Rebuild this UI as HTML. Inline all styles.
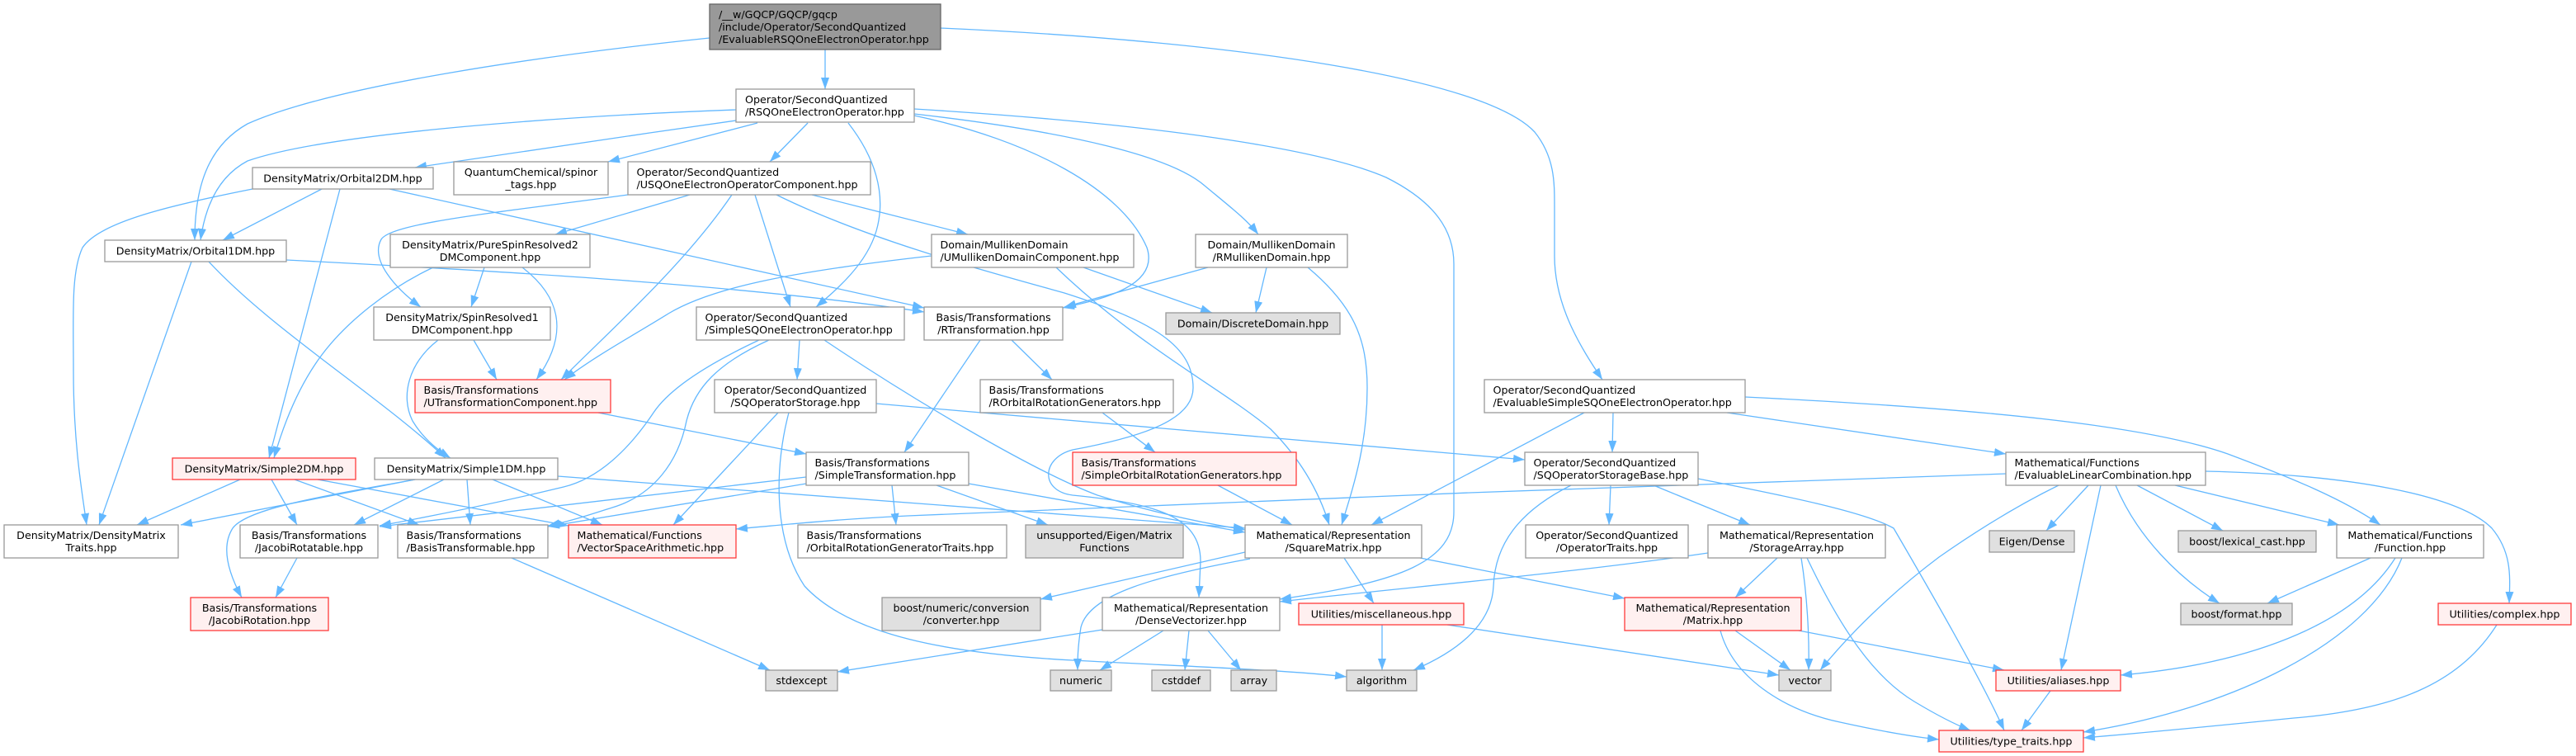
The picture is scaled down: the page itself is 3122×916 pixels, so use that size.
<!DOCTYPE html>
<html>
<head>
<meta charset="utf-8">
<style>
html,body{margin:0;padding:0;background:#fff;}
svg{display:block;}
.e{fill:none;stroke:#63b8ff;stroke-width:1.3;marker-end:url(#a);}
.n{fill:#fff;stroke:#999;stroke-width:1.3;}
.r{fill:#fff0f0;stroke:#ff3b3b;stroke-width:1.3;}
.g{fill:#e0e0e0;stroke:#999;stroke-width:1.3;}
.t{fill:#999;stroke:#666;stroke-width:1.3;}
text{font-family:"DejaVu Sans","Liberation Sans",sans-serif;font-size:12.7px;fill:#000;dominant-baseline:central;}
.m{text-anchor:middle;}
.s{text-anchor:start;}
</style>
</head>
<body>
<svg xmlns="http://www.w3.org/2000/svg" width="3122" height="916" viewBox="0 0 3122 916">
<defs>
<marker id="a" markerWidth="14" markerHeight="10" refX="14" refY="5" orient="auto" markerUnits="userSpaceOnUse">
<path d="M0,0 L14,5 L0,10 z" fill="#63b8ff"/>
</marker>
</defs>
<rect width="3122" height="916" fill="#fff"/>
<g>
<path class="e" d="M1000,60 L1000,108"/>
<path class="e" d="M860,46 C650,68 400,105 300,150 C250,178 236,230 236,291"/>
<path class="e" d="M1140,34 C1500,50 1800,95 1860,160 C1884,190 1884,220 1884,250 L1884,310 C1884,370 1915,420 1942,460"/>
<path class="e" d="M892,146 C760,165 620,185 503,203"/>
<path class="e" d="M918,149 L737,196"/>
<path class="e" d="M892,133 C700,140 400,160 300,195 C262,215 248,255 243,291"/>
<path class="e" d="M979,149 L933,196"/>
<path class="e" d="M1028,149 C1060,190 1075,235 1062,280 C1050,320 1015,350 989,372"/>
<path class="e" d="M1108,140 C1250,170 1360,230 1390,300 C1405,345 1340,362 1288,373"/>
<path class="e" d="M1108,138 C1300,160 1420,190 1460,225 C1490,250 1510,265 1525,284"/>
<path class="e" d="M1108,132 C1400,150 1600,180 1680,215 C1740,245 1762,280 1762,320 L1762,620 C1762,680 1700,705 1551,726"/>
<path class="e" d="M836,236 L673,284"/>
<path class="e" d="M761,236 C600,258 475,270 462,290 C448,315 480,350 510,372"/>
<path class="e" d="M887,236 C830,320 740,400 680,460"/>
<path class="e" d="M915,236 L958,372"/>
<path class="e" d="M984,236 L1173,284"/>
<path class="e" d="M941,236 C1050,290 1200,330 1290,355 C1400,390 1446,420 1446,470 C1446,510 1380,530 1300,545 C1262,555 1260,595 1300,600 C1400,610 1455,625 1455,680 L1453,724"/>
<path class="e" d="M1129,310 C950,330 860,350 810,380 C770,405 720,432 684,460"/>
<path class="e" d="M1313,324 L1469,379"/>
<path class="e" d="M1280,324 C1380,420 1480,470 1540,520 C1580,560 1600,600 1611,636"/>
<path class="e" d="M1464,324 L1290,372"/>
<path class="e" d="M1535,324 L1522,379"/>
<path class="e" d="M1585,324 C1640,370 1657,410 1657,470 C1657,540 1640,590 1626,636"/>
<path class="e" d="M306,229 C200,250 120,270 100,300 C86,330 89,380 89,450 C89,540 100,600 105,636"/>
<path class="e" d="M390,229 L270,291"/>
<path class="e" d="M412,229 L326,555"/>
<path class="e" d="M472,229 L1120,373"/>
<path class="e" d="M232,317 L120,636"/>
<path class="e" d="M253,317 C330,400 460,480 540,555"/>
<path class="e" d="M347,315 C600,328 900,345 1120,378"/>
<path class="e" d="M587,324 L571,372"/>
<path class="e" d="M633,324 C680,360 690,405 650,460"/>
<path class="e" d="M525,324 C470,350 420,390 390,430 C360,470 342,520 332,555"/>
<path class="e" d="M574,412 L602,460"/>
<path class="e" d="M531,412 C495,440 485,480 500,510 C512,530 530,545 546,555"/>
<path class="e" d="M725,500 L977,550"/>
<path class="e" d="M291,581 L166,636"/>
<path class="e" d="M329,581 L360,636"/>
<path class="e" d="M357,581 L508,636"/>
<path class="e" d="M385,581 L689,637"/>
<path class="e" d="M503,581 L219,636"/>
<path class="e" d="M503,581 C400,600 300,615 282,640 C266,665 280,700 293,724"/>
<path class="e" d="M538,581 L429,636"/>
<path class="e" d="M566,581 L570,636"/>
<path class="e" d="M597,581 L730,636"/>
<path class="e" d="M676,577 L1509,640"/>
<path class="e" d="M360,676 L334,724"/>
<path class="e" d="M620,676 C720,720 850,775 933,812"/>
<path class="e" d="M969,412 L966,460"/>
<path class="e" d="M999,412 C1100,480 1250,570 1330,600 C1400,622 1460,634 1509,642"/>
<path class="e" d="M920,412 C860,440 812,470 792,500 C762,545 725,580 683,590 C600,610 520,626 460,637"/>
<path class="e" d="M932,412 C870,440 842,470 832,510 C822,560 792,600 742,615 C710,625 690,632 664,637"/>
<path class="e" d="M977,578 L460,638"/>
<path class="e" d="M977,586 L664,638"/>
<path class="e" d="M1081,588 L1086,636"/>
<path class="e" d="M1135,588 L1270,636"/>
<path class="e" d="M1174,586 L1509,645"/>
<path class="e" d="M1062,489 L1848,557"/>
<path class="e" d="M943,500 L816,636"/>
<path class="e" d="M956,500 C940,560 935,650 975,710 C1030,770 1150,792 1300,800 C1450,808 1560,812 1632,820"/>
<path class="e" d="M1188,412 L1096,548"/>
<path class="e" d="M1226,412 L1275,460"/>
<path class="e" d="M1336,500 L1400,548"/>
<path class="e" d="M1476,588 L1566,636"/>
<path class="e" d="M1509,669 L1261,726"/>
<path class="e" d="M1515,677 C1400,698 1320,720 1310,760 C1306,785 1306,800 1306,812"/>
<path class="e" d="M1629,676 L1665,731"/>
<path class="e" d="M1721,676 L1969,725"/>
<path class="e" d="M1336,763 L1015,814"/>
<path class="e" d="M1410,764 L1333,812"/>
<path class="e" d="M1441,764 L1436,812"/>
<path class="e" d="M1464,764 L1504,812"/>
<path class="e" d="M1675,757 L1675,812"/>
<path class="e" d="M1754,757 L2156,818"/>
<path class="e" d="M1955,500 L1954,548"/>
<path class="e" d="M1920,500 L1662,636"/>
<path class="e" d="M2093,500 L2431,550"/>
<path class="e" d="M2115,481 C2400,495 2600,515 2700,550 C2780,580 2840,605 2885,636"/>
<path class="e" d="M1904,588 C1840,620 1812,660 1810,710 C1808,760 1760,792 1713,812"/>
<path class="e" d="M1952,588 L1950,636"/>
<path class="e" d="M2004,588 L2121,636"/>
<path class="e" d="M2058,580 C2160,600 2260,620 2295,640 C2330,700 2400,820 2429,885"/>
<path class="e" d="M2070,670 C1900,695 1700,712 1551,729"/>
<path class="e" d="M2154,676 L2103,724"/>
<path class="e" d="M2183,676 C2190,720 2193,770 2192,812"/>
<path class="e" d="M2190,676 C2230,760 2270,820 2320,850 C2350,868 2370,878 2388,885"/>
<path class="e" d="M2103,764 L2170,812"/>
<path class="e" d="M2085,764 C2100,820 2160,860 2230,875 C2280,886 2320,893 2350,896"/>
<path class="e" d="M2180,764 L2429,812"/>
<path class="e" d="M2431,574 C2100,585 1400,610 1100,625 C1000,630 950,636 892,641"/>
<path class="e" d="M2495,588 C2450,610 2400,640 2350,675 C2290,720 2240,770 2206,812"/>
<path class="e" d="M2531,588 L2480,643"/>
<path class="e" d="M2546,588 L2498,812"/>
<path class="e" d="M2564,588 C2590,650 2640,700 2690,731"/>
<path class="e" d="M2590,588 L2694,643"/>
<path class="e" d="M2636,588 L2835,636"/>
<path class="e" d="M2673,571 C2850,575 2980,600 3020,640 C3045,670 3042,700 3041,731"/>
<path class="e" d="M2873,676 L2748,731"/>
<path class="e" d="M2903,676 C2850,760 2720,805 2570,818"/>
<path class="e" d="M2911,676 C2870,780 2700,860 2525,887"/>
<path class="e" d="M3026,757 C2980,830 2900,860 2780,870 C2680,880 2600,888 2525,894"/>
<path class="e" d="M2485,837 L2450,885"/>
</g>
<g>
<rect class="t" x="860" y="5" width="280" height="55"/>
<text class="s" x="871" y="17.5">/__w/GQCP/GQCP/gqcp</text>
<text class="s" x="871" y="32.5">/include/Operator/SecondQuantized</text>
<text class="s" x="871" y="47.5">/EvaluableRSQOneElectronOperator.hpp</text>

<rect class="n" x="892" y="108" width="216" height="40"/>
<text class="s" x="903" y="120.5">Operator/SecondQuantized</text>
<text class="s" x="903" y="135.5">/RSQOneElectronOperator.hpp</text>

<rect class="n" x="306" y="203" width="219" height="26"/>
<text class="m" x="415.5" y="216">DensityMatrix/Orbital2DM.hpp</text>

<rect class="n" x="550" y="196" width="187" height="40"/>
<text class="m" x="643.5" y="208.5">QuantumChemical/spinor</text>
<text class="m" x="643.5" y="223.5">_tags.hpp</text>

<rect class="n" x="761" y="196" width="294" height="40"/>
<text class="s" x="771.5" y="208.5">Operator/SecondQuantized</text>
<text class="s" x="771.5" y="223.5">/USQOneElectronOperatorComponent.hpp</text>

<rect class="n" x="127" y="291" width="220" height="26"/>
<text class="m" x="237" y="304">DensityMatrix/Orbital1DM.hpp</text>

<rect class="n" x="473" y="284" width="242" height="40"/>
<text class="m" x="594" y="296.5">DensityMatrix/PureSpinResolved2</text>
<text class="m" x="594" y="311.5">DMComponent.hpp</text>

<rect class="n" x="1129" y="284" width="245" height="40"/>
<text class="s" x="1139.5" y="296.5">Domain/MullikenDomain</text>
<text class="s" x="1139.5" y="311.5">/UMullikenDomainComponent.hpp</text>

<rect class="n" x="1449" y="284" width="184" height="40"/>
<text class="m" x="1541" y="296.5">Domain/MullikenDomain</text>
<text class="m" x="1541" y="311.5">/RMullikenDomain.hpp</text>

<rect class="n" x="453" y="372" width="214" height="40"/>
<text class="m" x="560" y="384.5">DensityMatrix/SpinResolved1</text>
<text class="m" x="560" y="399.5">DMComponent.hpp</text>

<rect class="n" x="844" y="372" width="252" height="40"/>
<text class="s" x="854.5" y="384.5">Operator/SecondQuantized</text>
<text class="s" x="854.5" y="399.5">/SimpleSQOneElectronOperator.hpp</text>

<rect class="n" x="1120" y="372" width="168" height="40"/>
<text class="m" x="1204" y="384.5">Basis/Transformations</text>
<text class="m" x="1204" y="399.5">/RTransformation.hpp</text>

<rect class="g" x="1413" y="379" width="211" height="26"/>
<text class="m" x="1518.5" y="392">Domain/DiscreteDomain.hpp</text>

<rect class="r" x="503" y="460" width="237" height="40"/>
<text class="s" x="513.5" y="472.5">Basis/Transformations</text>
<text class="s" x="513.5" y="487.5">/UTransformationComponent.hpp</text>

<rect class="n" x="866" y="460" width="196" height="40"/>
<text class="m" x="964" y="472.5">Operator/SecondQuantized</text>
<text class="m" x="964" y="487.5">/SQOperatorStorage.hpp</text>

<rect class="n" x="1188" y="460" width="234" height="40"/>
<text class="s" x="1198.5" y="472.5">Basis/Transformations</text>
<text class="s" x="1198.5" y="487.5">/ROrbitalRotationGenerators.hpp</text>

<rect class="n" x="1799" y="460" width="316" height="40"/>
<text class="s" x="1809.5" y="472.5">Operator/SecondQuantized</text>
<text class="s" x="1809.5" y="487.5">/EvaluableSimpleSQOneElectronOperator.hpp</text>

<rect class="r" x="209" y="555" width="222" height="26"/>
<text class="m" x="320" y="568">DensityMatrix/Simple2DM.hpp</text>

<rect class="n" x="454" y="555" width="222" height="26"/>
<text class="m" x="565" y="568">DensityMatrix/Simple1DM.hpp</text>

<rect class="n" x="977" y="548" width="197" height="40"/>
<text class="s" x="987.5" y="560.5">Basis/Transformations</text>
<text class="s" x="987.5" y="575.5">/SimpleTransformation.hpp</text>

<rect class="r" x="1300" y="548" width="271" height="40"/>
<text class="s" x="1310.5" y="560.5">Basis/Transformations</text>
<text class="s" x="1310.5" y="575.5">/SimpleOrbitalRotationGenerators.hpp</text>

<rect class="n" x="1848" y="548" width="210" height="40"/>
<text class="s" x="1858.5" y="560.5">Operator/SecondQuantized</text>
<text class="s" x="1858.5" y="575.5">/SQOperatorStorageBase.hpp</text>

<rect class="n" x="2431" y="548" width="242" height="40"/>
<text class="s" x="2441.5" y="560.5">Mathematical/Functions</text>
<text class="s" x="2441.5" y="575.5">/EvaluableLinearCombination.hpp</text>

<rect class="n" x="5" y="636" width="211" height="40"/>
<text class="m" x="110.5" y="648.5">DensityMatrix/DensityMatrix</text>
<text class="m" x="110.5" y="663.5">Traits.hpp</text>

<rect class="n" x="291" y="636" width="167" height="40"/>
<text class="m" x="374.5" y="648.5">Basis/Transformations</text>
<text class="m" x="374.5" y="663.5">/JacobiRotatable.hpp</text>

<rect class="n" x="482" y="636" width="182" height="40"/>
<text class="s" x="492.5" y="648.5">Basis/Transformations</text>
<text class="s" x="492.5" y="663.5">/BasisTransformable.hpp</text>

<rect class="r" x="689" y="636" width="203" height="40"/>
<text class="s" x="699.5" y="648.5">Mathematical/Functions</text>
<text class="s" x="699.5" y="663.5">/VectorSpaceArithmetic.hpp</text>

<rect class="n" x="967" y="636" width="253" height="40"/>
<text class="s" x="977.5" y="648.5">Basis/Transformations</text>
<text class="s" x="977.5" y="663.5">/OrbitalRotationGeneratorTraits.hpp</text>

<rect class="g" x="1243" y="636" width="191" height="40"/>
<text class="m" x="1338.5" y="648.5">unsupported/Eigen/Matrix</text>
<text class="m" x="1338.5" y="663.5">Functions</text>

<rect class="n" x="1509" y="636" width="214" height="40"/>
<text class="m" x="1616" y="648.5">Mathematical/Representation</text>
<text class="m" x="1616" y="663.5">/SquareMatrix.hpp</text>

<rect class="n" x="1849" y="636" width="197" height="40"/>
<text class="m" x="1947.5" y="648.5">Operator/SecondQuantized</text>
<text class="m" x="1947.5" y="663.5">/OperatorTraits.hpp</text>

<rect class="n" x="2070" y="636" width="215" height="40"/>
<text class="m" x="2177.5" y="648.5">Mathematical/Representation</text>
<text class="m" x="2177.5" y="663.5">/StorageArray.hpp</text>

<rect class="g" x="2411" y="643" width="103" height="26"/>
<text class="m" x="2462.5" y="656">Eigen/Dense</text>

<rect class="g" x="2640" y="643" width="167" height="26"/>
<text class="m" x="2723.5" y="656">boost/lexical_cast.hpp</text>

<rect class="n" x="2832" y="636" width="178" height="40"/>
<text class="m" x="2921" y="648.5">Mathematical/Functions</text>
<text class="m" x="2921" y="663.5">/Function.hpp</text>

<rect class="r" x="231" y="724" width="167" height="40"/>
<text class="m" x="314.5" y="736.5">Basis/Transformations</text>
<text class="m" x="314.5" y="751.5">/JacobiRotation.hpp</text>

<rect class="g" x="1069" y="724" width="192" height="40"/>
<text class="m" x="1165" y="736.5">boost/numeric/conversion</text>
<text class="m" x="1165" y="751.5">/converter.hpp</text>

<rect class="n" x="1336" y="724" width="215" height="40"/>
<text class="m" x="1443.5" y="736.5">Mathematical/Representation</text>
<text class="m" x="1443.5" y="751.5">/DenseVectorizer.hpp</text>

<rect class="r" x="1574" y="731" width="200" height="26"/>
<text class="m" x="1674" y="744">Utilities/miscellaneous.hpp</text>

<rect class="r" x="1969" y="724" width="214" height="40"/>
<text class="m" x="2076" y="736.5">Mathematical/Representation</text>
<text class="m" x="2076" y="751.5">/Matrix.hpp</text>

<rect class="g" x="2643" y="731" width="135" height="26"/>
<text class="m" x="2710.5" y="744">boost/format.hpp</text>

<rect class="r" x="2955" y="731" width="161" height="26"/>
<text class="m" x="3035.5" y="744">Utilities/complex.hpp</text>

<rect class="g" x="928" y="812" width="87" height="25"/>
<text class="m" x="971.5" y="824.5">stdexcept</text>

<rect class="g" x="1273" y="812" width="74" height="25"/>
<text class="m" x="1310" y="824.5">numeric</text>

<rect class="g" x="1396" y="812" width="71" height="25"/>
<text class="m" x="1431.5" y="824.5">cstddef</text>

<rect class="g" x="1492" y="812" width="55" height="25"/>
<text class="m" x="1519.5" y="824.5">array</text>

<rect class="g" x="1632" y="812" width="85" height="25"/>
<text class="m" x="1674.5" y="824.5">algorithm</text>

<rect class="g" x="2156" y="812" width="63" height="25"/>
<text class="m" x="2187.5" y="824.5">vector</text>

<rect class="r" x="2419" y="812" width="151" height="25"/>
<text class="m" x="2494.5" y="824.5">Utilities/aliases.hpp</text>

<rect class="r" x="2350" y="885" width="175" height="26"/>
<text class="m" x="2437.5" y="898">Utilities/type_traits.hpp</text>
</g>
</svg>
</body>
</html>
